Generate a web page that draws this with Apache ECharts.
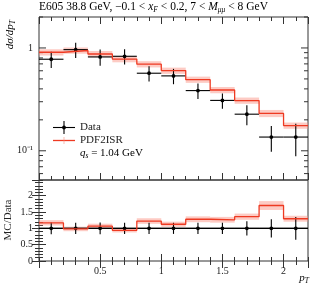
<!DOCTYPE html>
<html><head><meta charset="utf-8">
<script src="https://cdn.jsdelivr.net/npm/echarts@6/dist/echarts.min.js"></script>
<style>html,body{margin:0;padding:0;background:#fff}#c{width:319px;height:288px}</style>
</head><body><div id="c"></div>
<script>
// ---- data ----
var binEdges = [0, 0.2, 0.4, 0.6, 0.8, 1.0, 1.2, 1.4, 1.6, 1.8, 2.0, 2.2];
var dataY = [0.777, 0.963, 0.818, 0.83, 0.568, 0.535, 0.385, 0.309, 0.227, 0.136, 0.136];
var dataErrRel = [0.18, 0.17, 0.18, 0.17, 0.17, 0.17, 0.17, 0.17, 0.22, 0.28, 0.35];
var mcY = [0.908, 0.945, 0.873, 0.78, 0.695, 0.602, 0.492, 0.39, 0.308, 0.231, 0.176];
var mcErrRel = [0.07, 0.07, 0.07, 0.07, 0.07, 0.07, 0.07, 0.07, 0.07, 0.08, 0.07];
var mainYTicksMajor = [0.1, 1];
var mainYTicksMinor = [0.06, 0.07, 0.08, 0.09, 0.2, 0.3, 0.4, 0.5, 0.6, 0.7, 0.8, 0.9, 2];
var xTickLabels = ['0.5', '1', '1.5', '2'];

var FONT = 'Liberation Serif';
var RED = '#ee3a22';
var BAND = 'rgba(250,140,125,0.45)';

var nb = dataY.length;
var centers = [], ratio = [];
for (var i = 0; i < nb; i++) {
  centers.push((binEdges[i] + binEdges[i + 1]) / 2);
  ratio.push(mcY[i] / dataY[i]);
}
function stepData(vals) {
  var d = [];
  for (var i = 0; i < nb; i++) d.push([binEdges[i], vals[i]]);
  d.push([binEdges[nb], vals[nb - 1]]);
  return d;
}
function bandData(vals, rel) {
  var d = [];
  for (var i = 0; i < nb; i++) d.push([binEdges[i], binEdges[i + 1], vals[i] * (1 - rel[i]), vals[i] * (1 + rel[i])]);
  return d;
}
function errData(vals, rel) {
  var d = [];
  for (var i = 0; i < nb; i++) d.push([centers[i], vals[i], binEdges[i], binEdges[i + 1], vals[i] * (1 - rel[i]), vals[i] * (1 + rel[i])]);
  return d;
}
var ratioData = [];
for (var i = 0; i < nb; i++) ratioData.push(1);

var XMIN = 0, XMAX = 2.2;
var G0 = {left: 39, top: 17, width: 269, height: 163};
var G1 = {left: 39, top: 180, width: 269, height: 81};

function xAx(grid, pos, interval, len, showLabel) {
  return {
    type: 'value', gridIndex: grid, position: pos, min: XMIN, max: XMAX, interval: interval,
    axisLine: {show: false}, splitLine: {show: false},
    axisTick: {show: true, inside: true, length: len, lineStyle: {color: '#333', width: 1}},
    axisLabel: {show: showLabel, color: '#222', fontFamily: FONT, fontSize: 10, margin: 5, showMaxLabel: false, showMinLabel: false,
      formatter: function (v) { var s = (Math.round(v * 10) / 10).toString(); return xTickLabels.indexOf(s) >= 0 ? s : ''; }}
  };
}
function yAxR(pos, interval, len, showLabel) {
  return {
    type: 'value', gridIndex: 1, position: pos, min: 0, max: 2.48, interval: interval,
    axisLine: {show: false}, splitLine: {show: false},
    axisTick: {show: true, inside: true, length: len, lineStyle: {color: '#333', width: 1}},
    axisLabel: {show: showLabel, color: '#222', fontFamily: FONT, fontSize: 10, margin: 6, showMaxLabel: false,
      formatter: function (v) { return (Math.round(v * 10) / 10).toString(); }}
  };
}

function bandRender(params, api) {
  var p1 = api.coord([api.value(0), api.value(3)]);
  var p2 = api.coord([api.value(1), api.value(2)]);
  return {type: 'rect', shape: {x: p1[0], y: p1[1], width: p2[0] - p1[0], height: p2[1] - p1[1]}, style: {fill: BAND}};
}
function errRender(params, api) {
  var c = api.coord([api.value(0), api.value(1)]);
  var l = api.coord([api.value(2), api.value(1)]);
  var r = api.coord([api.value(3), api.value(1)]);
  var lo = api.coord([api.value(0), api.value(4)]);
  var hi = api.coord([api.value(0), api.value(5)]);
  var st = {stroke: '#000', lineWidth: 1.1};
  return {type: 'group', children: [
    {type: 'line', shape: {x1: l[0], y1: c[1], x2: r[0], y2: c[1]}, style: st},
    {type: 'line', shape: {x1: c[0], y1: lo[1], x2: c[0], y2: hi[1]}, style: st},
    {type: 'circle', shape: {cx: c[0], cy: c[1], r: 1.9}, style: {fill: '#000'}}
  ]};
}
var tickVals = [];
mainYTicksMajor.forEach(function (v) { tickVals.push([v, 7]); });
mainYTicksMinor.forEach(function (v) { tickVals.push([v, 4]); });
function tickRender(params, api) {
  var v = api.value(0), len = api.value(1);
  var a = api.coord([XMIN, v]), b = api.coord([XMAX, v]);
  var st = {stroke: '#333', lineWidth: 1};
  return {type: 'group', children: [
    {type: 'line', shape: {x1: a[0], y1: a[1], x2: a[0] + len, y2: a[1]}, style: st},
    {type: 'line', shape: {x1: b[0], y1: b[1], x2: b[0] - len, y2: b[1]}, style: st}
  ]};
}

var rich = {
  n: {fontFamily: FONT, fontSize: 11.5, color: '#222'},
  i: {fontFamily: FONT, fontSize: 11.5, fontStyle: 'italic', color: '#222'},
  s: {fontFamily: FONT, fontSize: 7.5, fontStyle: 'italic', color: '#222', verticalAlign: 'bottom', padding: [6, 0, 0, 0]}
};
var richL = {
  n: {fontFamily: FONT, fontSize: 11, color: '#222'},
  i: {fontFamily: FONT, fontSize: 11, fontStyle: 'italic', color: '#222'},
  s: {fontFamily: FONT, fontSize: 7.5, fontStyle: 'italic', color: '#222', verticalAlign: 'bottom', padding: [6, 0, 0, 0]}
};

var chart = echarts.init(document.getElementById('c'), null, {renderer: 'canvas'});
chart.setOption({
  animation: false,
  backgroundColor: '#fff',
  grid: [
    Object.assign({show: true, borderColor: '#333', borderWidth: 1, containLabel: false}, G0),
    Object.assign({show: true, borderColor: '#333', borderWidth: 1, containLabel: false}, G1)
  ],
  xAxis: [
    xAx(0, 'bottom', 0.1, 4, false), xAx(0, 'bottom', 0.5, 7, false),
    xAx(0, 'top', 0.1, 4, false), xAx(0, 'top', 0.5, 7, false),
    xAx(1, 'bottom', 0.1, 4, false), xAx(1, 'bottom', 0.5, 7, true),
    xAx(1, 'top', 0.1, 4, false), xAx(1, 'top', 0.5, 7, false)
  ],
  yAxis: [
    {type: 'log', gridIndex: 0, min: 0.052, max: 2, logBase: 10,
      axisLine: {show: false}, splitLine: {show: false}, axisTick: {show: false},
      axisLabel: {color: '#222', fontFamily: FONT, fontSize: 10, margin: 6, showMinLabel: false, showMaxLabel: false,
        formatter: function (v) { if (Math.abs(v - 1) < 1e-6) return '1'; if (Math.abs(v - 0.1) < 1e-6) return '10⁻¹'; return ''; }}},
    yAxR('left', 0.1, 4, false), yAxR('left', 0.5, 7, true),
    yAxR('right', 0.1, 4, false), yAxR('right', 0.5, 7, false)
  ],
  series: [
    {type: 'custom', xAxisIndex: 0, yAxisIndex: 0, renderItem: tickRender, data: tickVals, silent: true},
    {type: 'custom', xAxisIndex: 0, yAxisIndex: 0, renderItem: bandRender, data: bandData(mcY, mcErrRel), silent: true},
    {type: 'line', xAxisIndex: 0, yAxisIndex: 0, step: 'end', data: stepData(mcY), showSymbol: false, lineStyle: {color: RED, width: 1.3}, silent: true},
    {type: 'custom', xAxisIndex: 0, yAxisIndex: 0, renderItem: errRender, data: errData(dataY, dataErrRel), silent: true},
    // ratio panel
    {type: 'custom', xAxisIndex: 4, yAxisIndex: 1, renderItem: bandRender, data: bandData(ratio, mcErrRel), silent: true},
    {type: 'line', xAxisIndex: 4, yAxisIndex: 1, data: [[XMIN, 1], [XMAX, 1]], showSymbol: false, lineStyle: {color: '#000', width: 1.3}, silent: true},
    {type: 'line', xAxisIndex: 4, yAxisIndex: 1, step: 'end', data: stepData(ratio), showSymbol: false, lineStyle: {color: RED, width: 1.3}, silent: true},
    {type: 'custom', xAxisIndex: 4, yAxisIndex: 1, renderItem: errRender, data: errData(ratioData, dataErrRel), silent: true}
  ],
  graphic: [
    {type: 'text', left: 39, top: 1, style: {text: '{n|E605 38.8 GeV, −0.1 < }{i|x}{s|F}{n| < 0.2, 7 < }{i|M}{s|μμ}{n| < 8 GeV}', rich: rich}},
    {type: 'text', x: 3, y: 20, rotation: Math.PI / 2, originX: 0, originY: 0,
      style: {text: '{i|dσ/dp}{s|T}', rich: richL, align: 'right', verticalAlign: 'top'}},
    {type: 'text', x: 3, y: 220, rotation: Math.PI / 2, originX: 0, originY: 0,
      style: {text: 'MC/Data', fontFamily: FONT, fontSize: 11, fill: '#222', align: 'center', verticalAlign: 'top'}},
    {type: 'text', right: 10, top: 273, style: {text: '{i|p}{s|T}', rich: richL}},
    // legend
    {type: 'line', shape: {x1: 53, y1: 127.5, x2: 75, y2: 127.5}, style: {stroke: '#000', lineWidth: 1.1}},
    {type: 'line', shape: {x1: 64, y1: 121, x2: 64, y2: 134}, style: {stroke: '#000', lineWidth: 1.1}},
    {type: 'circle', shape: {cx: 64, cy: 127.5, r: 1.9}, style: {fill: '#000'}},
    {type: 'text', x: 80, y: 127.5, style: {text: 'Data', fontFamily: FONT, fontSize: 11, fill: '#222', verticalAlign: 'middle'}},
    {type: 'line', shape: {x1: 53, y1: 140.5, x2: 75, y2: 140.5}, style: {stroke: RED, lineWidth: 1.3}},
    {type: 'line', shape: {x1: 64, y1: 137, x2: 64, y2: 144}, style: {stroke: BAND, lineWidth: 1.3}},
    {type: 'text', x: 80, y: 140.5, style: {text: 'PDF2ISR', fontFamily: FONT, fontSize: 11, fill: '#222', verticalAlign: 'middle'}},
    {type: 'text', x: 80, y: 153, style: {text: '{i|q}{s|s}{n| = 1.04 GeV}', rich: richL, verticalAlign: 'middle'}}
  ]
});
</script></body></html>
